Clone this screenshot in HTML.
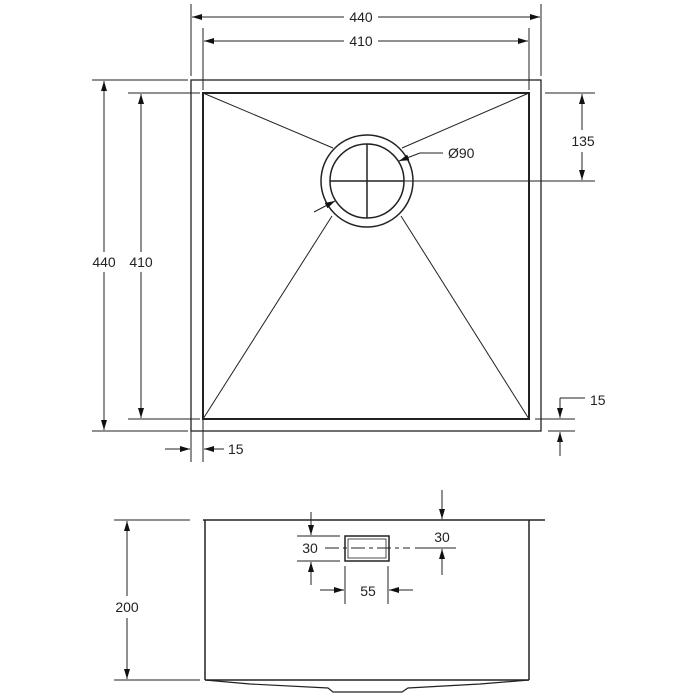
<!DOCTYPE html>
<html><head><style>html,body{margin:0;padding:0;background:#fff}svg{display:block}text{font-family:"Liberation Sans",sans-serif;font-size:14px;fill:#222}</style></head>
<body>
<svg width="700" height="700" viewBox="0 0 700 700" xmlns="http://www.w3.org/2000/svg">
<defs>
<marker id="a" viewBox="0 0 10 6" refX="10" refY="3" markerWidth="10" markerHeight="6" orient="auto-start-reverse" markerUnits="userSpaceOnUse"><path d="M0,0 L10,3 L0,6 z" fill="#111"/></marker>
</defs>
<g stroke="#222" fill="none" stroke-width="1">
<!-- top dims -->
<line x1="191" y1="4" x2="191" y2="76"/><line x1="541" y1="4" x2="541" y2="76"/>
<line x1="203" y1="28" x2="203" y2="90"/><line x1="529" y1="28" x2="529" y2="90"/>
<line x1="192" y1="17" x2="344" y2="17" marker-start="url(#a)"/><line x1="378" y1="17" x2="540" y2="17" marker-end="url(#a)"/>
<line x1="204" y1="41" x2="344" y2="41" marker-start="url(#a)"/><line x1="378" y1="41" x2="528" y2="41" marker-end="url(#a)"/>
<!-- left dims -->
<line x1="92" y1="80" x2="188" y2="80"/><line x1="92" y1="431" x2="188" y2="431"/>
<line x1="128" y1="93" x2="200" y2="93"/><line x1="128" y1="419" x2="200" y2="419"/>
<line x1="104" y1="81" x2="104" y2="252" marker-start="url(#a)"/><line x1="104" y1="272" x2="104" y2="430" marker-end="url(#a)"/>
<line x1="141" y1="94" x2="141" y2="252" marker-start="url(#a)"/><line x1="141" y1="272" x2="141" y2="418" marker-end="url(#a)"/>
<!-- main rects -->
<rect x="191" y="80" width="350" height="351" stroke-width="1.3"/>
<rect x="203" y="93" width="326" height="326" stroke-width="2"/>
<line x1="203" y1="93" x2="333" y2="148"/><line x1="529" y1="93" x2="402" y2="148"/>
<line x1="203" y1="419" x2="332" y2="216"/><line x1="529" y1="419" x2="401" y2="216"/>
<circle cx="367" cy="181" r="46" stroke-width="1.5"/>
<circle cx="367" cy="181" r="37" stroke-width="1.5"/>
<line x1="367" y1="144" x2="367" y2="218" stroke-width="1.5"/>
<line x1="330" y1="181" x2="404" y2="181" stroke-width="1.5"/>
<line x1="404" y1="181" x2="595" y2="181"/>
<line x1="545" y1="93" x2="595" y2="93"/>
<line x1="582" y1="94" x2="582" y2="130" marker-start="url(#a)"/><line x1="582" y1="152" x2="582" y2="180" marker-end="url(#a)"/>
<line x1="443" y1="153" x2="420" y2="153"/><line x1="420" y1="153" x2="399" y2="161" marker-end="url(#a)"/>
<line x1="314" y1="212" x2="335" y2="201" marker-end="url(#a)"/>
<!-- right 15 -->
<line x1="535" y1="419" x2="575" y2="419"/><line x1="548" y1="431" x2="575" y2="431"/>
<line x1="585" y1="398" x2="560" y2="398"/><line x1="560" y1="398" x2="560" y2="418" marker-end="url(#a)"/>
<line x1="560" y1="456" x2="560" y2="432" marker-end="url(#a)"/>
<!-- bottom 15 -->
<line x1="191" y1="431" x2="191" y2="462"/><line x1="203" y1="419" x2="203" y2="462"/>
<line x1="165" y1="449" x2="190" y2="449" marker-end="url(#a)"/>
<line x1="224" y1="449" x2="204" y2="449" marker-end="url(#a)"/>
<!-- front view -->
<line x1="114" y1="520" x2="190" y2="520"/>
<line x1="203" y1="520" x2="545" y2="520" stroke-width="1.5"/>
<line x1="205" y1="520" x2="205" y2="680" stroke-width="1.5"/>
<line x1="529" y1="520" x2="529" y2="680" stroke-width="1.5"/>
<line x1="205" y1="680" x2="529" y2="680" stroke-width="1.5"/>
<line x1="114" y1="680" x2="200" y2="680"/>
<path d="M205,680 L250,684 L328,688 L333,692 L402,692 L408,688 L480,684 L529,680" stroke-width="1.2"/>
<line x1="127" y1="521" x2="127" y2="596" marker-start="url(#a)"/><line x1="127" y1="618" x2="127" y2="679" marker-end="url(#a)"/>
<rect x="345" y="536" width="44" height="25" stroke-width="1.5"/>
<rect x="348" y="539" width="38" height="19" stroke-width="0.8"/>
<line x1="297" y1="536" x2="340" y2="536"/><line x1="297" y1="561" x2="340" y2="561"/>
<line x1="311" y1="512" x2="311" y2="535" marker-end="url(#a)"/>
<line x1="311" y1="585" x2="311" y2="562" marker-end="url(#a)"/>
<line x1="325" y1="548" x2="410" y2="548" stroke-dasharray="14,4,4,4"/>
<line x1="415" y1="548" x2="456" y2="548"/>
<line x1="345" y1="566" x2="345" y2="604"/><line x1="388" y1="566" x2="388" y2="604"/>
<line x1="320" y1="590" x2="344" y2="590" marker-end="url(#a)"/>
<line x1="413" y1="590" x2="389" y2="590" marker-end="url(#a)"/>
<line x1="442" y1="490" x2="442" y2="519" marker-end="url(#a)"/>
<line x1="442" y1="575" x2="442" y2="549" marker-end="url(#a)"/>
</g>
<text x="361" y="22" text-anchor="middle">440</text>
<text x="361" y="46" text-anchor="middle">410</text>
<text x="104" y="267" text-anchor="middle">440</text>
<text x="141" y="267" text-anchor="middle">410</text>
<text x="583" y="146" text-anchor="middle">135</text>
<text x="448" y="158">Ø90</text>
<text x="590" y="405">15</text>
<text x="228" y="454">15</text>
<text x="127" y="612" text-anchor="middle">200</text>
<text x="310" y="553" text-anchor="middle">30</text>
<text x="442" y="542" text-anchor="middle">30</text>
<text x="368" y="596" text-anchor="middle">55</text>
</svg>
</body></html>
